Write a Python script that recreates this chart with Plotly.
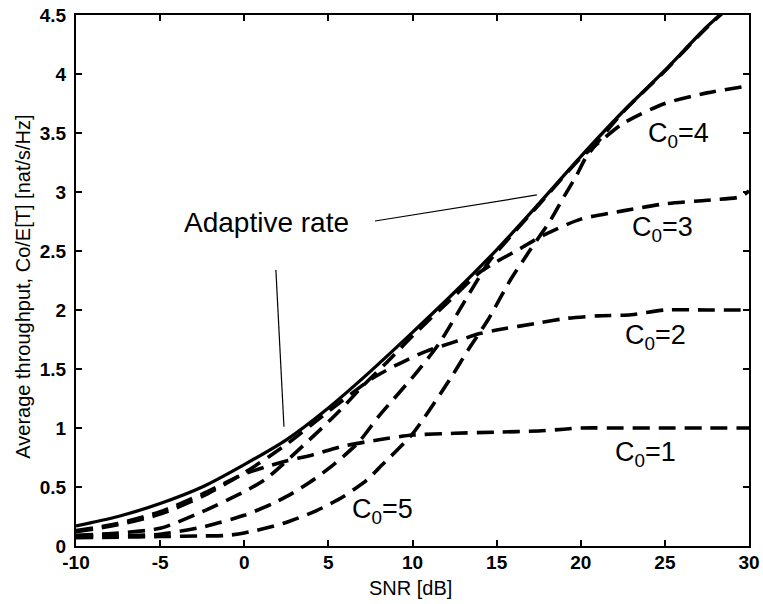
import plotly.graph_objects as go

# ---------------- data ----------------
snr_adaptive = [-10, -7.5, -5, -2.5, 0, 2.5, 5, 7.5, 10, 12.5, 15, 17.5, 20, 22.5, 25, 27.5, 30]
thr_adaptive = [0.17, 0.25, 0.36, 0.50, 0.69, 0.90, 1.17, 1.48, 1.81, 2.15, 2.51, 2.90, 3.30, 3.68, 4.03, 4.40, 4.72]

snr_c1 = [-10, -7.5, -5, -2.5, 0, 1.5, 2.5, 4, 6, 8, 10, 12.5, 15, 17.5, 19, 20, 22.5, 25, 27.5, 30]
thr_c1 = [0.13, 0.19, 0.29, 0.44, 0.61, 0.68, 0.72, 0.77, 0.85, 0.90, 0.94, 0.955, 0.965, 0.975, 0.99, 1.0, 1.0, 1.0, 1.0, 1.0]

snr_c2 = [-10, -7.5, -5, -2.5, 0, 2.5, 5, 7.5, 9, 10.8, 12.5, 14, 15, 17.5, 19.2, 21, 23, 25, 27.5, 30]
thr_c2 = [0.12, 0.18, 0.27, 0.42, 0.62, 0.86, 1.14, 1.41, 1.53, 1.65, 1.73, 1.80, 1.83, 1.89, 1.93, 1.95, 1.96, 2.0, 2.0, 2.0]

snr_c3 = [-10, -7.5, -5, -2.5, 0, 1.3, 3.5, 5.7, 7, 8.5, 10, 12.5, 14, 15, 16.4, 17.6, 20, 22.5, 25, 27.5, 29.5, 30]
thr_c3 = [0.09, 0.11, 0.15, 0.29, 0.46, 0.57, 0.85, 1.15, 1.35, 1.56, 1.78, 2.12, 2.32, 2.41, 2.52, 2.62, 2.77, 2.84, 2.90, 2.93, 2.96, 3.01]

snr_c4 = [-10, -7.5, -5, -2.5, 0, 1.7, 2.9, 4.2, 5.4, 6.8, 8, 10.3, 11.6, 13, 14.5, 15, 17.5, 20, 21, 22.5, 25, 27.5, 30]
thr_c4 = [0.08, 0.085, 0.10, 0.16, 0.26, 0.36, 0.45, 0.57, 0.70, 0.88, 1.10, 1.48, 1.72, 2.05, 2.40, 2.49, 2.89, 3.29, 3.41, 3.58, 3.75, 3.84, 3.90]

snr_c5 = [-10, -7.5, -5, -2.5, -1, 0, 2.3, 4.3, 5.9, 7.3, 8, 10, 12.3, 13.3, 14.5, 15.8, 17, 18.2, 19, 19.75, 20.3, 22.5, 25, 27.5, 30]
thr_c5 = [0.07, 0.075, 0.08, 0.085, 0.09, 0.11, 0.19, 0.30, 0.42, 0.56, 0.66, 0.95, 1.43, 1.66, 1.92, 2.25, 2.51, 2.76, 2.96, 3.14, 3.29, 3.675, 4.025, 4.395, 4.715]

x_ticks = [-10, -5, 0, 5, 10, 15, 20, 25, 30]
y_ticks = [0, 0.5, 1, 1.5, 2, 2.5, 3, 3.5, 4, 4.5]
y_tick_labels = ["0", "0.5", "1", "1.5", "2", "2.5", "3", "3.5", "4", "4.5"]

curve_labels = ["C<sub>0</sub>=1", "C<sub>0</sub>=2", "C<sub>0</sub>=3", "C<sub>0</sub>=4", "C<sub>0</sub>=5"]
label_x = [21.9, 22.5, 22.9, 23.9, 6.3]
label_y = [0.78, 1.77, 2.69, 3.48, 0.30]

FONT = "Liberation Sans, Arial, Helvetica, sans-serif"

fig = go.Figure()
fig.add_trace(go.Scatter(x=snr_adaptive, y=thr_adaptive, mode="lines",
                         line=dict(color="black", width=3.3, shape="spline", smoothing=0.8)))
dash_style = dict(color="black", width=3.6, dash="17px,9px", shape="spline", smoothing=0.7)
for xs, ys in [(snr_c1, thr_c1), (snr_c2, thr_c2), (snr_c3, thr_c3), (snr_c4, thr_c4), (snr_c5, thr_c5)]:
    fig.add_trace(go.Scatter(x=xs, y=ys, mode="lines", line=dash_style))

for txt, lx, ly in zip(curve_labels, label_x, label_y):
    fig.add_annotation(x=lx, y=ly, xref="x", yref="y", text=txt, showarrow=False,
                       xanchor="left", yanchor="middle",
                       font=dict(family=FONT, size=27, color="black"))

fig.add_annotation(x=1.35, y=2.74, xref="x", yref="y", text="Adaptive rate", showarrow=False,
                   xanchor="center", yanchor="middle",
                   font=dict(family=FONT, size=28, color="black"))

# axis titles
fig.add_annotation(x=0.497, y=-0.079, xref="paper", yref="paper", text="SNR [dB]",
                   showarrow=False, xanchor="center", yanchor="middle",
                   font=dict(family=FONT, size=20, color="black"))
fig.add_annotation(x=-0.079, y=0.488, xref="paper", yref="paper",
                   text="Average throughput, Co/E[T] [nat/s/Hz]", textangle=-90,
                   showarrow=False, xanchor="center", yanchor="middle",
                   font=dict(family=FONT, size=20, color="black"))

# leader lines from the "Adaptive rate" label
fig.add_shape(type="line", xref="x", yref="y", x0=7.77, y0=2.754, x1=17.39, y1=2.975,
              line=dict(color="black", width=1.2))
fig.add_shape(type="line", xref="x", yref="y", x0=1.88, y0=2.34, x1=2.36, y1=1.01,
              line=dict(color="black", width=1.2))

axis_common = dict(showline=True, linecolor="black", linewidth=2, mirror="ticks",
                   ticks="inside", ticklen=6, tickwidth=1.5, tickcolor="black",
                   showgrid=False, zeroline=False, automargin=False,
                   ticklabeloverflow="allow",
                   tickfont=dict(family=FONT, size=19, color="black", weight="bold"))

fig.update_xaxes(range=[-10, 30], tickvals=x_ticks, ticktext=[str(v) for v in x_ticks],
                 ticklabelstandoff=-2, **axis_common)
fig.update_yaxes(range=[0, 4.5], tickvals=y_ticks, ticktext=y_tick_labels,
                 ticklabelstandoff=4, **axis_common)

fig.update_layout(width=763, height=604,
                  margin=dict(l=76, r=14, t=15, b=58, autoexpand=False),
                  paper_bgcolor="white", plot_bgcolor="white", showlegend=False)

# remove the default page margin so the figure sits at the window origin
fig.write_html("out.html", config={"displayModeBar": False},
               post_script="document.body.style.margin='0';document.body.style.overflow='hidden';")
